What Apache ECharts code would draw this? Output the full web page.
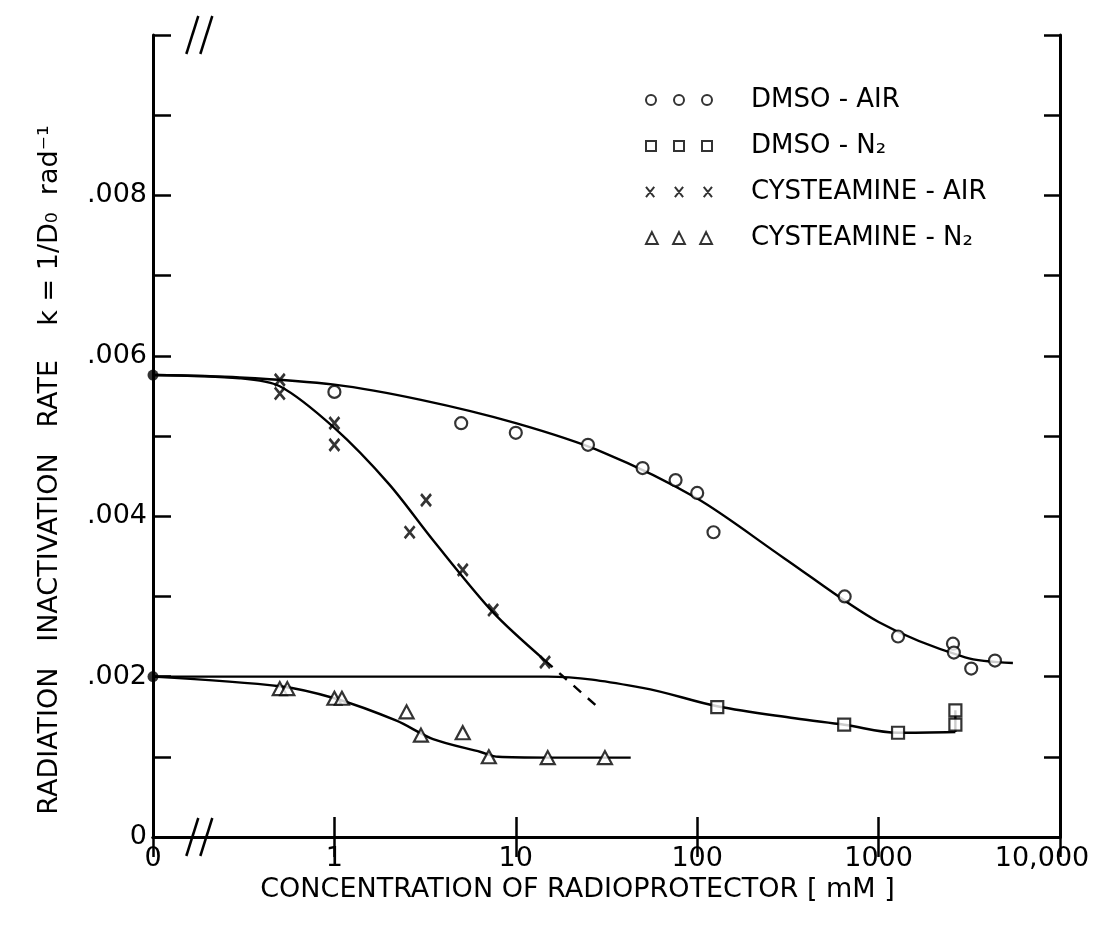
<!DOCTYPE html>
<html>
<head>
<meta charset="utf-8">
<script src="https://cdn.jsdelivr.net/npm/echarts@6/dist/echarts.min.js"></script>
<style>
html,body{margin:0;padding:0;background:#fff;}
#chart{width:1095px;height:928px;}
</style>
</head>
<body>
<div id="chart"></div>
<script>
// ---------- DATA ----------
// Concentration in mM; 0 means "no radioprotector" (placed at the broken left end of the log axis)
const xTickLabels = { 0: '0', 1: '1', 10: '10', 100: '100', 1000: '1000', 10000: '10,000' };
const yTickLabels = { 0: '0', 2: '.002', 4: '.004', 6: '.006', 8: '.008' };

// DMSO - AIR (open circles)
const dmsoAirConc = [1, 5, 10, 25, 50, 76, 100, 123, 650, 1280, 2570, 2600, 3240, 4380];
const dmsoAirK    = [0.00555, 0.00516, 0.00504, 0.00489, 0.0046, 0.00445, 0.00429, 0.0038, 0.003, 0.0025, 0.00241, 0.0023, 0.0021, 0.0022];
// DMSO - N2 (open squares)
const dmsoN2Conc = [129, 646, 1280, 2650, 2650];
const dmsoN2K    = [0.00162, 0.0014, 0.0013, 0.00158, 0.0014];
// CYSTEAMINE - AIR (x)
const cysAirConc = [0.5, 0.5, 1, 1, 2.6, 3.2, 5.1, 7.5, 14.5];
const cysAirK    = [0.0057, 0.00553, 0.00516, 0.00489, 0.0038, 0.0042, 0.00333, 0.00283, 0.00218];
// CYSTEAMINE - N2 (open triangles)
const cysN2Conc = [0.5, 0.55, 1.0, 1.1, 2.5, 3.0, 5.1, 7.1, 15, 31];
const cysN2K    = [0.00185, 0.00185, 0.00173, 0.00173, 0.00156, 0.00127, 0.0013, 0.001, 0.00099, 0.00099];
// control values at zero concentration (filled dots)
const controlConc = [0, 0];
const controlK    = [0.00576, 0.002];

// hand-drawn fitted curves
const dmsoAirFitConc = [0, 0.3, 1, 3, 10, 30, 100, 300, 1000, 3000, 5500];
const dmsoAirFitK    = [0.00576, 0.00573, 0.00564, 0.00545, 0.00516, 0.0048, 0.00422, 0.00348, 0.00268, 0.00224, 0.00217];
const dmsoN2FitConc = [0, 15, 50, 129, 345, 646, 1280, 2650];
const dmsoN2FitK    = [0.002, 0.002, 0.00186, 0.00163, 0.00148, 0.0014, 0.0013, 0.00131];
const dmsoN2EndConc = [2650, 2650];
const dmsoN2EndK    = [0.00131, 0.00158];
const cysAirFitConc = [0, 0.3, 0.5, 1, 2, 3.5, 7.5, 14.5];
const cysAirFitK    = [0.00576, 0.00572, 0.00562, 0.0051, 0.0044, 0.0037, 0.0028, 0.0022];
const cysAirDashConc = [14.5, 29];
const cysAirDashK    = [0.0022, 0.0016];
const cysN2FitConc = [0, 0.5, 1, 2.2, 3.5, 6.4, 8, 15, 30, 43];
const cysN2FitK    = [0.002, 0.00188, 0.00173, 0.00145, 0.00122, 0.00106, 0.001, 0.00099, 0.00099, 0.00099];

// ---------- CHART ----------
const AXIS_ZERO = 0.1;   // log-axis position used for "0"
const BREAK_AT = 0.18;   // position of the axis-break marks
const FONT = "'DejaVu Sans', 'Liberation Sans', Arial, sans-serif";

function pos(c) { return c === 0 ? AXIS_ZERO : c; }
function pairs(xs, ys) { return xs.map((c, i) => [pos(c), ys[i]]); }

const chart = echarts.init(document.getElementById('chart'), null, { renderer: 'canvas' });

const lineBase = {
  type: 'line', showSymbol: false, silent: true, smooth: 0.35, z: 2,
  lineStyle: { color: '#000', width: 2.4 }, emphasis: { disabled: true }
};
const markerStyle = { color: '#fff', borderColor: '#000', borderWidth: 2.2 };

const icons = {
  circles: 'path://M1,6a5,5 0 1,0 10,0a5,5 0 1,0 -10,0M29,6a5,5 0 1,0 10,0a5,5 0 1,0 -10,0M57,6a5,5 0 1,0 10,0a5,5 0 1,0 -10,0',
  squares: 'path://M1,1h10v10h-10ZM29,1h10v10h-10ZM57,1h10v10h-10Z',
  crosses: 'path://M2,1L10,11M10,1L2,11M30,1L38,11M38,1L30,11M58,1L66,11M66,1L58,11',
  triangles: 'path://M6,1L11,11L1,11ZM29,1L34,11L24,11ZM52,1L57,11L47,11Z'
};

function xLabel(v) {
  if (v < 0.5) return xTickLabels[0];
  const r = Math.round(v);
  if (r === 10000) return '{last|' + xTickLabels[r] + '}';
  return xTickLabels[r] !== undefined ? xTickLabels[r] : '';
}
function yLabel(v) {
  const n = Math.round(v * 1000);
  return yTickLabels[n] !== undefined ? yTickLabels[n] : '';
}

const axisLine = { show: true, lineStyle: { color: '#000', width: 3 } };
const tickIn = (len) => ({ show: true, inside: true, length: len, lineStyle: { color: '#000', width: 2.5 } });

const option = {
  backgroundColor: '#fff',
  animation: false,
  grid: { left: 153, right: 35, top: 35, bottom: 91, containLabel: false, outerBoundsMode: 'none' },
  legend: {
    orient: 'vertical', left: 640, top: 82, itemGap: 20,
    itemWidth: 66, itemHeight: 12,
    itemStyle: { color: '#fff', borderColor: '#000', borderWidth: 2 },
    textStyle: { fontFamily: FONT, fontSize: 26, color: '#000', padding: [0, 0, 0, 34] },
    selectedMode: false,
    data: [
      { name: 'DMSO - AIR', icon: icons.circles },
      { name: 'DMSO - N₂', icon: icons.squares },
      { name: 'CYSTEAMINE - AIR', icon: icons.crosses },
      { name: 'CYSTEAMINE - N₂', icon: icons.triangles }
    ]
  },
  xAxis: [
    {
      type: 'log', logBase: 10, min: AXIS_ZERO, max: 10000, position: 'bottom',
      name: 'CONCENTRATION OF RADIOPROTECTOR [ mM ]', nameLocation: 'middle', nameGap: 37,
      nameTextStyle: { fontFamily: FONT, fontSize: 27, color: '#000', padding: [0, 58, 0, 0] },
      axisLine: axisLine, axisTick: tickIn(20), splitLine: { show: false }, minorTick: { show: false },
      axisLabel: {
        formatter: xLabel, fontFamily: FONT, fontSize: 27, color: '#000', margin: 8,
        showMinLabel: true, showMaxLabel: true,
        rich: { last: { fontFamily: FONT, fontSize: 27, color: '#000', padding: [0, 36, 0, 0] } }
      }
    },
    {
      type: 'log', logBase: 10, min: AXIS_ZERO, max: 10000, position: 'top',
      axisLine: axisLine, axisTick: tickIn(20), axisLabel: { show: false }, splitLine: { show: false }
    }
  ],
  yAxis: [
    {
      type: 'value', min: 0, max: 0.01, interval: 0.001, position: 'left',
      name: 'RADIATION   INACTIVATION   RATE    k = 1/D₀  rad⁻¹', nameLocation: 'middle', nameGap: 90, nameRotate: 90,
      nameTextStyle: { fontFamily: FONT, fontSize: 27, color: '#000', padding: [0, 68, 0, 0] },
      axisLine: axisLine, axisTick: tickIn(18), splitLine: { show: false },
      axisLabel: { formatter: yLabel, fontFamily: FONT, fontSize: 27, color: '#000', margin: 6 }
    },
    {
      type: 'value', min: 0, max: 0.01, interval: 0.001, position: 'right',
      axisLine: axisLine, axisTick: tickIn(16), axisLabel: { show: false }, splitLine: { show: false }
    }
  ],
  series: [
    Object.assign({}, lineBase, { name: 'fit-dmso-air', smooth: 0.3, data: pairs(dmsoAirFitConc, dmsoAirFitK) }),
    Object.assign({}, lineBase, { name: 'fit-dmso-n2', data: pairs(dmsoN2FitConc, dmsoN2FitK) }),
    Object.assign({}, lineBase, { name: 'fit-dmso-n2-end', smooth: false, data: pairs(dmsoN2EndConc, dmsoN2EndK) }),
    Object.assign({}, lineBase, { name: 'fit-cys-air', smooth: 0.3, data: pairs(cysAirFitConc, cysAirFitK) }),
    Object.assign({}, lineBase, { name: 'fit-cys-air-dash', smooth: false,
      lineStyle: { color: '#000', width: 2.4, type: [10, 9] }, data: pairs(cysAirDashConc, cysAirDashK) }),
    Object.assign({}, lineBase, { name: 'fit-cys-n2', smooth: 0.3, data: pairs(cysN2FitConc, cysN2FitK) }),
    {
      name: 'DMSO - AIR', type: 'scatter', z: 5, symbol: 'circle', symbolSize: 12,
      itemStyle: markerStyle, data: pairs(dmsoAirConc, dmsoAirK)
    },
    {
      name: 'DMSO - N₂', type: 'scatter', z: 5, symbol: 'rect', symbolSize: 12,
      itemStyle: markerStyle, data: pairs(dmsoN2Conc, dmsoN2K)
    },
    {
      name: 'CYSTEAMINE - AIR', type: 'scatter', z: 5, symbol: 'path://M0,0L10,12M10,0L0,12', symbolSize: [10, 12],
      itemStyle: { color: 'none', borderColor: '#000', borderWidth: 2.8 }, data: pairs(cysAirConc, cysAirK)
    },
    {
      name: 'CYSTEAMINE - N₂', type: 'scatter', z: 5, symbol: 'triangle', symbolSize: [14, 13],
      itemStyle: markerStyle, data: pairs(cysN2Conc, cysN2K)
    },
    {
      name: 'control', type: 'scatter', z: 6, symbol: 'circle', symbolSize: 11,
      itemStyle: { color: '#000' }, data: pairs(controlConc, controlK)
    }
  ]
};
chart.setOption(option);

// axis-break marks "//" on the top and bottom axes
function breakMarks() {
  const bx = chart.convertToPixel({ xAxisIndex: 0 }, BREAK_AT);
  const yTop = chart.convertToPixel({ yAxisIndex: 0 }, 0.01);
  const yBot = chart.convertToPixel({ yAxisIndex: 0 }, 0);
  const els = [];
  [yTop, yBot].forEach(function (y) {
    [-7, 7].forEach(function (dx) {
      els.push({
        type: 'line', z: 100,
        shape: { x1: bx + dx - 6, y1: y + 19, x2: bx + dx + 6, y2: y - 19 },
        style: { stroke: '#000', lineWidth: 2.5 }
      });
    });
  });
  chart.setOption({ graphic: els });
}
breakMarks();
</script>
</body>
</html>
